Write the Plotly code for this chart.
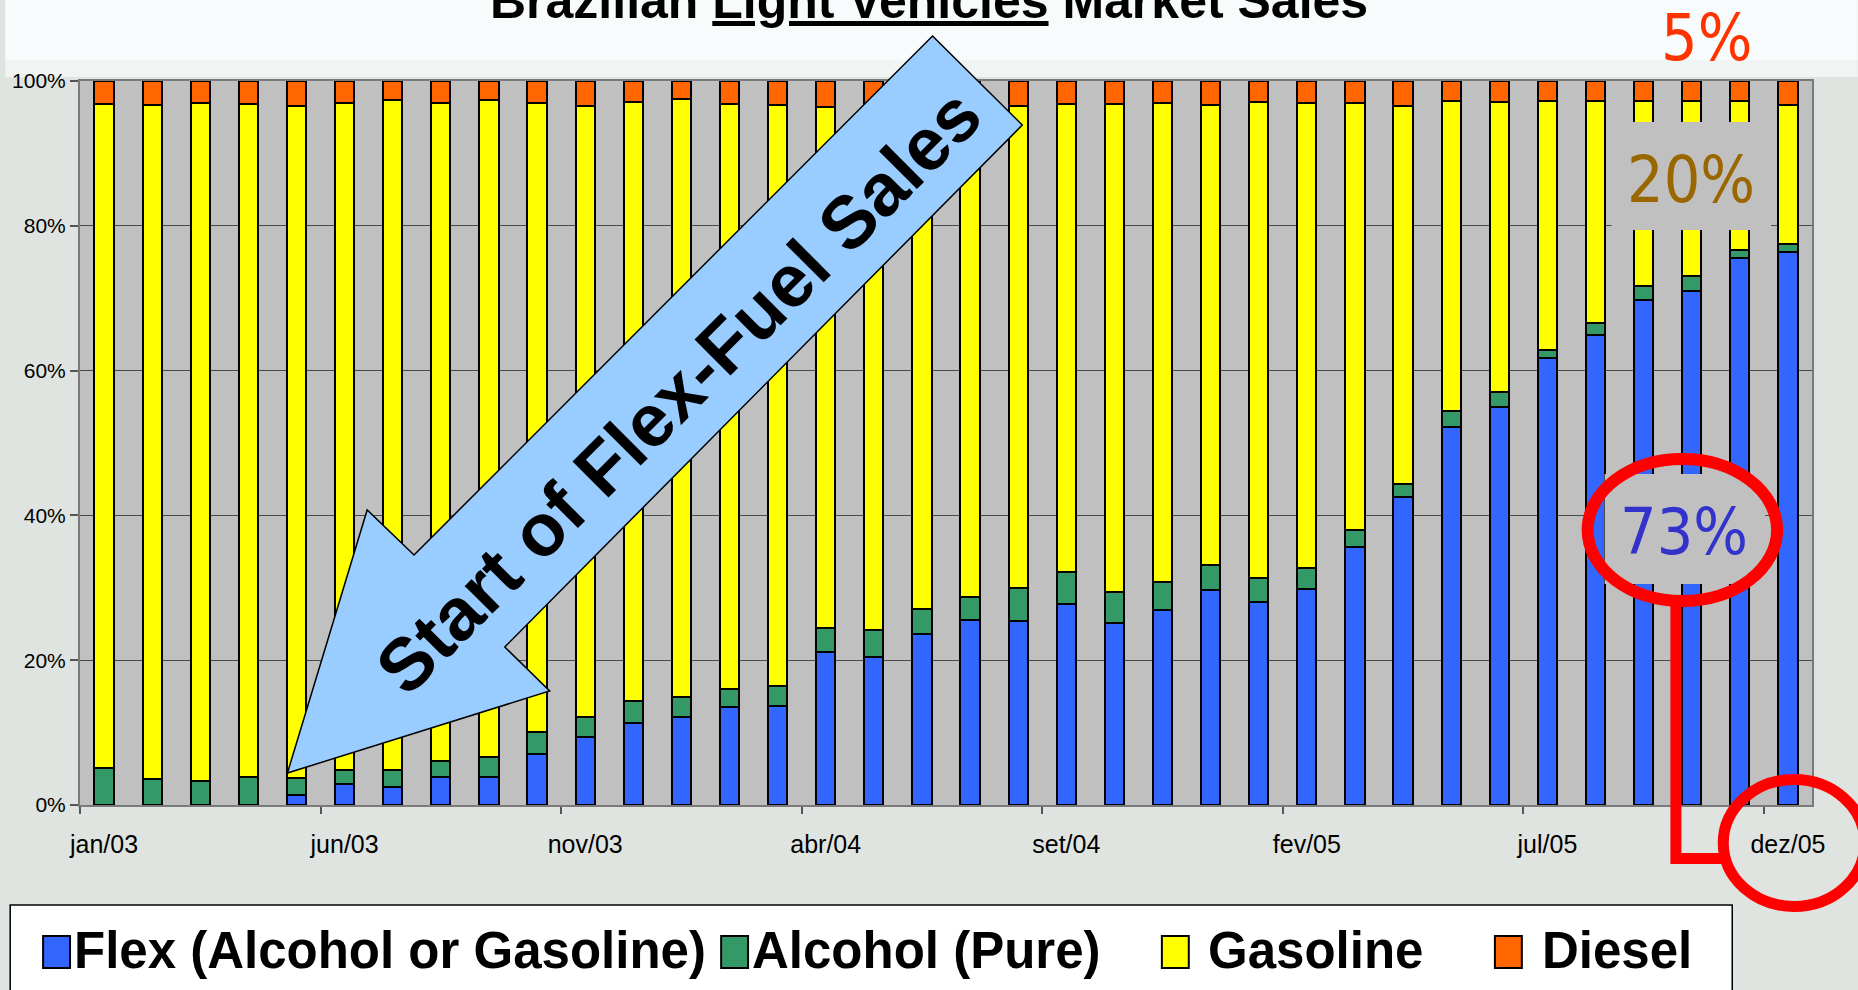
import plotly.graph_objects as go

# ---------------- data ----------------
months = ['jan/03', 'fev/03', 'mar/03', 'abr/03', 'mai/03', 'jun/03', 'jul/03', 'ago/03', 'set/03', 'out/03', 'nov/03', 'dez/03',
          'jan/04', 'fev/04', 'mar/04', 'abr/04', 'mai/04', 'jun/04', 'jul/04', 'ago/04', 'set/04', 'out/04', 'nov/04', 'dez/04',
          'jan/05', 'fev/05', 'mar/05', 'abr/05', 'mai/05', 'jun/05', 'jul/05', 'ago/05', 'set/05', 'out/05', 'nov/05', 'dez/05']

flex = [0.0, 0.0, 0.0, 0.0, 1.4, 2.9, 2.5, 3.9, 3.8, 7.1, 9.4, 11.3,
        12.1, 13.5, 13.7, 21.1, 20.5, 23.6, 25.5, 25.4, 27.8, 25.2, 26.9, 29.7,
        28.1, 29.8, 35.7, 42.6, 52.2, 55.0, 61.8, 64.9, 69.7, 71.0, 75.5, 76.4]
alcohol = [5.1, 3.6, 3.3, 3.8, 2.3, 1.9, 2.3, 2.2, 2.8, 3.0, 2.8, 3.0,
           2.8, 2.5, 2.7, 3.3, 3.7, 3.5, 3.2, 4.6, 4.4, 4.2, 3.9, 3.5,
           3.3, 3.0, 2.3, 1.8, 2.2, 2.1, 1.1, 1.7, 2.0, 2.0, 1.1, 1.1]
gasoline = [91.7, 93.1, 93.6, 93.0, 92.9, 92.2, 92.6, 90.8, 90.8, 86.8, 84.4, 82.8,
            82.6, 80.8, 80.3, 72.0, 72.6, 69.9, 68.2, 66.6, 64.6, 67.4, 66.2, 63.5,
            65.7, 64.2, 59.0, 52.2, 42.9, 40.0, 34.3, 30.7, 25.5, 24.3, 20.6, 19.2]
diesel = [3.2, 3.3, 3.1, 3.2, 3.4, 3.0, 2.6, 3.1, 2.6, 3.1, 3.4, 2.9,
          2.5, 3.2, 3.3, 3.6, 3.2, 3.0, 3.1, 3.4, 3.2, 3.2, 3.0, 3.3,
          2.9, 3.0, 3.0, 3.4, 2.7, 2.9, 2.8, 2.7, 2.8, 2.7, 2.8, 3.3]

series_names = ['Flex (Alcohol or Gasoline)', 'Alcohol (Pure)', 'Gasoline', 'Diesel']
series_values = [flex, alcohol, gasoline, diesel]
series_colors = ['#3366FF', '#339966', '#FFFF00', '#FF6600']

y_ticks = [0, 20, 40, 60, 80, 100]
y_ticktext = ['0%', '20%', '40%', '60%', '80%', '100%']
label_every = 5

title_html = 'Brazilian <u>Light Vehicles</u> Market Sales'
arrow_text = 'Start of Flex-Fuel Sales'
callouts = [('5%', '#FF3300'), ('20%', '#996600'), ('73%', '#3333CC')]

# ---------------- layout geometry (pixels) ----------------
W, H = 1858, 990
PL, PR, PT, PB = 75, 1812, 81, 805  # plot area


def px(x):
    return (x - PL) / (PR - PL)


def py(y):
    return (PB - y) / (PB - PT)


FONT = 'Liberation Sans, Arial, Helvetica, sans-serif'
NARROW = 'Liberation Sans Narrow, Arial Narrow, DejaVu Sans Condensed, Liberation Sans, sans-serif'

xs = list(range(len(months)))

fig = go.Figure()
for name, vals, col in zip(series_names, series_values, series_colors):
    fig.add_trace(go.Bar(x=xs, y=vals, name=name, marker=dict(color=col, line=dict(color='black', width=2)),
                         hovertemplate='%{y:.1f}%<extra>' + name + '</extra>'))

shapes = []
annotations = []

# background bands outside plot (light top area)
shapes.append(dict(type='rect', xref='paper', yref='paper', x0=px(0), x1=px(W), y0=py(60), y1=py(0),
                   fillcolor='#F8FBFB', line=dict(width=0), layer='below'))
shapes.append(dict(type='rect', xref='paper', yref='paper', x0=px(0), x1=px(W), y0=py(PT - 4), y1=py(60),
                   fillcolor='#F0F4F2', line=dict(width=0), layer='below'))

# big arrow
arrow_pts = [(930, 36), (1020, 125), (501, 647), (546, 691), (283, 773), (363, 510), (410, 555)]
path = 'M ' + ' L '.join(f'{px(x):.5f},{py(y):.5f}' for x, y in arrow_pts) + ' Z'
shapes.append(dict(type='path', xref='paper', yref='paper', path=path, fillcolor='#99CCFF',
                   line=dict(color='black', width=1.5)))
annotations.append(dict(xref='paper', yref='paper', x=px(675), y=py(391), text='<b>' + arrow_text + '</b>',
                        textangle=-45, showarrow=False, font=dict(family=FONT, size=74, color='black'),
                        xanchor='center', yanchor='middle'))

# 20% box
shapes.append(dict(type='rect', xref='paper', yref='paper', x0=px(1611), x1=px(1771), y0=py(230), y1=py(122),
                   fillcolor='#C0C0C0', line=dict(width=0)))
# 73% box
shapes.append(dict(type='rect', xref='paper', yref='paper', x0=px(1604), x1=px(1765), y0=py(584), y1=py(474),
                   fillcolor='#C0C0C0', line=dict(width=0)))
# red ellipse around 73%
shapes.append(dict(type='circle', xref='paper', yref='paper', x0=px(1682 - 95), x1=px(1682 + 95),
                   y0=py(530 + 71), y1=py(530 - 71), line=dict(color='#FF0000', width=12)))
# connector
conn = [(1675.5, 601), (1675.5, 858.5), (1724, 858.5)]
shapes.append(dict(type='path', xref='paper', yref='paper',
                   path='M ' + ' L '.join(f'{px(x):.5f},{py(y):.5f}' for x, y in conn),
                   line=dict(color='#FF0000', width=11)))
# ellipse around dez/05
shapes.append(dict(type='circle', xref='paper', yref='paper', x0=px(1794 - 71), x1=px(1794 + 71),
                   y0=py(843 + 63.5), y1=py(843 - 63.5), line=dict(color='#FF0000', width=11)))

callout_pos = [(1706, 38), (1691, 180), (1684, 532)]
for (txt, col), (cx, cy) in zip(callouts, callout_pos):
    annotations.append(dict(xref='paper', yref='paper', x=px(cx), y=py(cy), text=txt, showarrow=False,
                            font=dict(family=NARROW, size=64, color=col), xanchor='center', yanchor='middle'))

# title (partially cut off at top, as in the original slide)
annotations.append(dict(xref='paper', yref='paper', x=px(926), y=py(1), text='<b>' + title_html + '</b>',
                        showarrow=False, font=dict(family=FONT, size=50, color='black'),
                        xanchor='center', yanchor='middle'))

# custom legend
shapes.append(dict(type='rect', xref='paper', yref='paper', x0=px(5), x1=px(1732), y0=py(996), y1=py(905),
                   fillcolor='white', line=dict(color='black', width=1.5)))
sq_left = [38, 718, 1160, 1494]
txt_left = [67, 747, 1204, 1539]
for name, col, sl, tl in zip(series_names, series_colors, sq_left, txt_left):
    shapes.append(dict(type='rect', xref='paper', yref='paper', x0=px(sl), x1=px(sl + 27), y0=py(968), y1=py(936),
                       fillcolor=col, line=dict(color='black', width=2)))
    annotations.append(dict(xref='paper', yref='paper', x=px(tl), y=py(950), text='<b>' + name + '</b>',
                            showarrow=False, font=dict(family=FONT, size=51, color='black'),
                            xanchor='left', yanchor='middle'))

fig.update_layout(
    width=W, height=H,
    margin=dict(l=PL, r=W - PR, t=PT, b=H - PB, pad=0),
    paper_bgcolor='#E0E4E0',
    plot_bgcolor='#C0C0C0',
    barmode='stack', bargap=0.6,
    showlegend=False,
    font=dict(family=FONT, color='black'),
    shapes=shapes, annotations=annotations,
    xaxis=dict(range=[-0.5, len(months) - 0.5], tickmode='array',
               tickvals=xs[::label_every], ticktext=months[::label_every],
               ticks='', showgrid=False, zeroline=False, ticklabelstandoff=16,
               showline=True, linecolor='#7A7A7A', linewidth=2, mirror=True,
               tickfont=dict(family=FONT, size=25, color='black'),
               minor=dict(tickmode='array', tickvals=[v - 0.5 for v in xs[::label_every]],
                          ticks='outside', ticklen=7, tickwidth=1.5, tickcolor='#555555', showgrid=False)),
    yaxis=dict(range=[0, 100], tickmode='array', tickvals=y_ticks, ticktext=y_ticktext,
               ticks='outside', ticklen=8, tickwidth=1.5, tickcolor='#555555',
               showgrid=True, gridcolor='#4A4A4A', gridwidth=1, zeroline=False,
               showline=True, linecolor='#7A7A7A', linewidth=2, mirror=True,
               tickfont=dict(family=FONT, size=21, color='black')),
)

fig.write_html('out.html')
